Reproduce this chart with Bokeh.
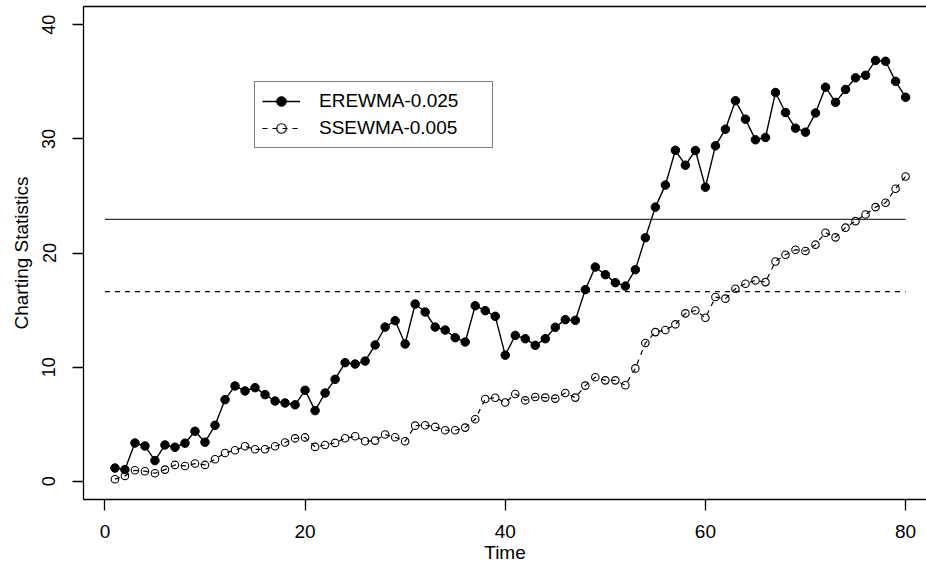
from bokeh.plotting import figure
from bokeh.models import (LinearAxis, FixedTicker, Legend, LegendItem,
                          ColumnDataSource, Range1d)
from bokeh.embed import file_html
from bokeh.resources import INLINE

# ---------------- data ----------------
time = list(range(1, 81))
erewma = [1.16, 1.02, 3.35, 3.09, 1.81, 3.18, 2.98, 3.33, 4.38, 3.42,
          4.90, 7.15, 8.35, 7.91, 8.20, 7.59, 7.03, 6.86, 6.70, 7.97,
          6.19, 7.73, 8.93, 10.39, 10.27, 10.53, 11.94, 13.51, 14.07, 12.03,
          15.53, 14.83, 13.51, 13.25, 12.58, 12.20, 15.38, 14.95, 14.45, 11.05,
          12.78, 12.49, 11.91, 12.49, 13.49, 14.16, 14.10, 16.79, 18.77, 18.10,
          17.40, 17.10, 18.54, 21.34, 24.02, 25.95, 29.00, 27.70, 28.98, 25.77,
          29.39, 30.85, 33.34, 31.73, 29.92, 30.12, 34.06, 32.31, 30.94, 30.59,
          32.27, 34.53, 33.20, 34.33, 35.35, 35.57, 36.87, 36.80, 35.04, 33.65]
ssewma = [0.18, 0.47, 0.96, 0.88, 0.70, 1.02, 1.43, 1.34, 1.55, 1.43,
          1.93, 2.48, 2.71, 3.06, 2.80, 2.80, 3.06, 3.39, 3.76, 3.84,
          3.01, 3.18, 3.36, 3.77, 3.94, 3.50, 3.56, 4.09, 3.85, 3.50,
          4.87, 4.90, 4.76, 4.47, 4.47, 4.70, 5.43, 7.21, 7.32, 6.90,
          7.65, 7.09, 7.38, 7.33, 7.24, 7.73, 7.33, 8.38, 9.11, 8.84,
          8.84, 8.41, 9.89, 12.11, 13.07, 13.25, 13.75, 14.71, 14.96, 14.32,
          16.14, 16.00, 16.87, 17.31, 17.60, 17.45, 19.26, 19.85, 20.29, 20.17,
          20.73, 21.78, 21.37, 22.22, 22.79, 23.38, 24.02, 24.40, 25.63, 26.70]
series_names = ["EREWMA-0.025", "SSEWMA-0.005"]
limit_erewma = 22.94      # solid control limit
limit_ssewma = 16.61      # dashed control limit
limit_span = [0, 80]      # time extent of the limit lines
x_ticks = [0, 20, 40, 60, 80]
y_ticks = [0, 10, 20, 30, 40]
x_title = "Time"
y_title = "Charting Statistics"

FONT = "Liberation Sans"

p = figure(width=926, height=565, output_backend="svg", toolbar_location=None,
           x_range=Range1d(-2.14, 82.09), y_range=Range1d(-1.6, 41.6),
           min_border_left=83, min_border_right=0, min_border_top=6,
           min_border_bottom=66, x_axis_location=None, y_axis_location=None)
p.outline_line_color = None
p.grid.visible = False
p.background_fill_color = "white"
p.border_fill_color = "white"

# ---- axes ----
xa = LinearAxis(ticker=FixedTicker(ticks=x_ticks))
xa.major_tick_out = 11
xa.major_tick_in = 0
xa.minor_tick_out = 0
xa.minor_tick_in = 0
xa.major_label_standoff = 14
xa.major_label_text_font = FONT
xa.major_label_text_font_size = "19px"
xa.major_label_text_color = "black"
xa.axis_label = x_title
xa.axis_label_text_font = FONT
xa.axis_label_text_font_size = "19px"
xa.axis_label_text_font_style = "normal"
xa.axis_label_text_color = "black"
xa.axis_label_standoff = 1
xa.axis_line_color = "black"
xa.axis_line_width = 1.3
xa.major_tick_line_width = 1.3
p.add_layout(xa, "below")

ya = LinearAxis(ticker=FixedTicker(ticks=y_ticks))
ya.major_tick_out = 11
ya.major_tick_in = 0
ya.minor_tick_out = 0
ya.minor_tick_in = 0
ya.major_label_standoff = 17
ya.major_label_orientation = "vertical"
ya.major_label_text_font = FONT
ya.major_label_text_font_size = "18px"
ya.major_label_text_color = "black"
ya.axis_label = y_title
ya.axis_label_text_font = FONT
ya.axis_label_text_font_size = "19px"
ya.axis_label_text_font_style = "normal"
ya.axis_label_text_color = "black"
ya.axis_label_standoff = 8
ya.axis_line_color = "black"
ya.axis_line_width = 1.3
ya.major_tick_line_width = 1.3
p.add_layout(ya, "left")

top = LinearAxis(ticker=FixedTicker(ticks=[]))
top.major_tick_out = 0
top.major_tick_in = 0
top.minor_tick_out = 0
top.minor_tick_in = 0
top.major_label_standoff = 0
top.axis_line_color = "black"
top.axis_line_width = 1.3
p.add_layout(top, "above")

# ---- limit lines ----
p.segment(x0="x0", y0="y", x1="x1", y1="y",
          source=ColumnDataSource(dict(x0=[limit_span[0]], x1=[limit_span[1]], y=[limit_erewma])),
          line_color="#333333", line_width=1.3)
p.segment(x0="x0", y0="y", x1="x1", y1="y",
          source=ColumnDataSource(dict(x0=[limit_span[0]], x1=[limit_span[1]], y=[limit_ssewma])),
          line_color="black", line_width=1.3, line_dash="5 5")

# ---- series ----
src = ColumnDataSource(dict(t=time, e=erewma, s=ssewma))
l1 = p.line("t", "e", source=src, line_color="black", line_width=1.4)
s1 = p.scatter("t", "e", source=src, size=8.5, fill_color="black", line_color="black")
l2 = p.line("t", "s", source=src, line_color="black", line_width=1.2, line_dash="5 5")
s2 = p.scatter("t", "s", source=src, size=7.5, fill_color=None, line_color="black",
               line_width=1.1)

legend = Legend(items=[LegendItem(label=series_names[0], renderers=[l1, s1]),
                       LegendItem(label=series_names[1], renderers=[l2, s2])],
                location=(171, 351))
legend.border_line_color = "black"
legend.border_line_width = 1.2
legend.background_fill_color = "white"
legend.background_fill_alpha = 1
legend.label_text_font = FONT
legend.label_text_font_size = "19px"
legend.label_text_color = "black"
legend.glyph_width = 38
legend.glyph_height = 24
legend.label_height = 24
legend.label_width = 166
legend.label_standoff = 19
legend.padding = 7
legend.spacing = 3
legend.margin = 0
p.add_layout(legend, "center")

open("out.html", "w").write(file_html(p, INLINE))
